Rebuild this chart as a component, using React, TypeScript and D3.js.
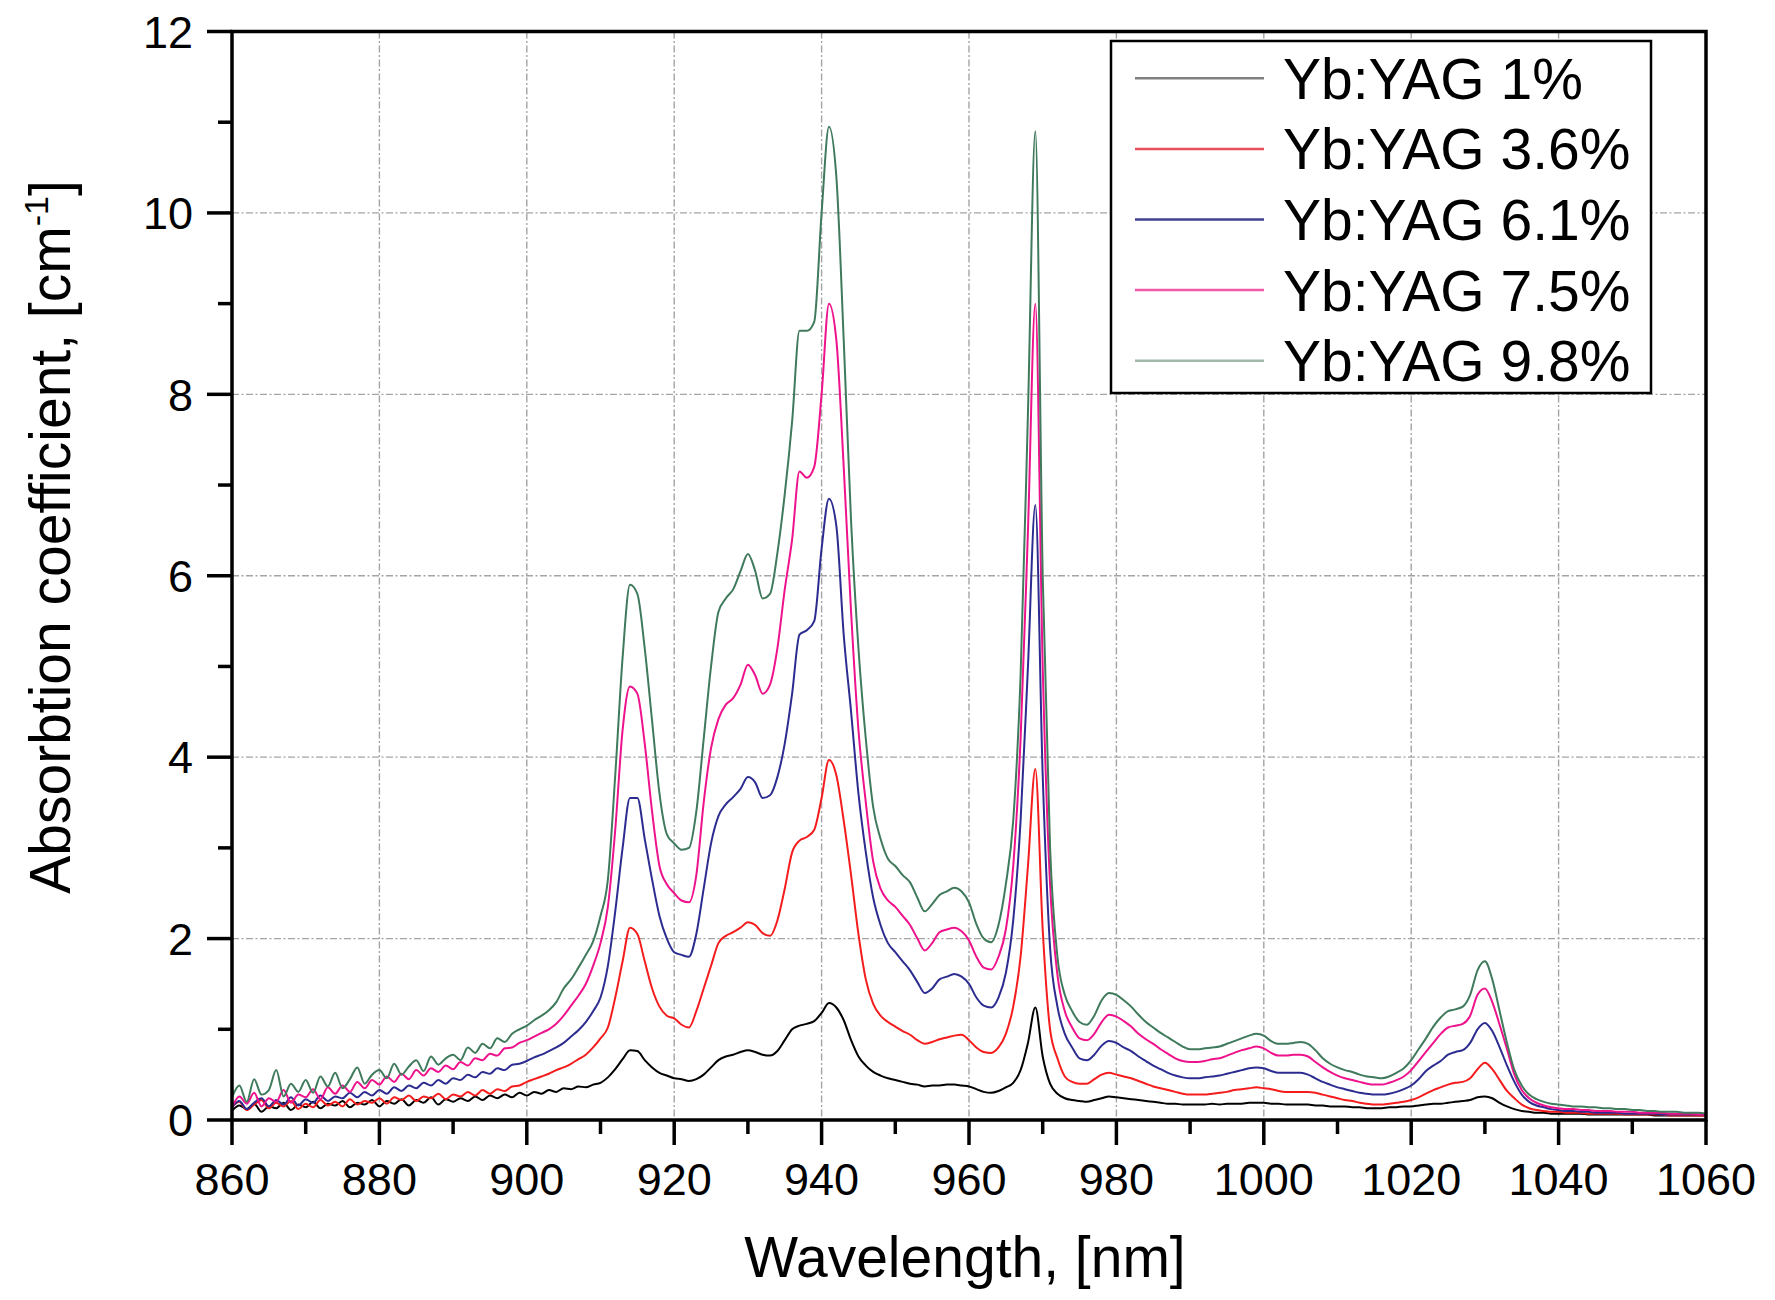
import * as d3 from "d3";

// measured absorption, one value per nm from 860 to 1060
const wavelength = d3.range(860, 1061, 1);

const yb1 = [
  0.10, 0.16, 0.12, 0.18, 0.09, 0.15, 0.13, 0.19, 0.11, 0.17,
  0.14, 0.20, 0.13, 0.18, 0.16, 0.21, 0.14, 0.19, 0.17, 0.22,
  0.15, 0.21, 0.18, 0.23, 0.16, 0.22, 0.19, 0.25, 0.17, 0.23,
  0.20, 0.24, 0.21, 0.26, 0.22, 0.27, 0.24, 0.28, 0.25, 0.30,
  0.27, 0.31, 0.29, 0.33, 0.31, 0.35, 0.34, 0.37, 0.36, 0.39,
  0.41, 0.47, 0.56, 0.67, 0.77, 0.76, 0.66, 0.58, 0.52, 0.49,
  0.46, 0.45, 0.43, 0.45, 0.50, 0.58, 0.66, 0.70, 0.72, 0.75,
  0.77, 0.75, 0.72, 0.71, 0.76, 0.88, 1.00, 1.04, 1.06, 1.09,
  1.18, 1.29, 1.24, 1.10, 0.88, 0.70, 0.60, 0.53, 0.49, 0.46,
  0.44, 0.42, 0.40, 0.39, 0.37, 0.38, 0.38, 0.39, 0.39, 0.38,
  0.37, 0.34, 0.31, 0.30, 0.32, 0.36, 0.41, 0.55, 0.85, 1.24,
  0.70, 0.40, 0.29, 0.24, 0.22, 0.21, 0.20, 0.22, 0.24, 0.26,
  0.25, 0.24, 0.23, 0.22, 0.21, 0.20, 0.19, 0.18, 0.18, 0.17,
  0.17, 0.17, 0.17, 0.18, 0.17, 0.18, 0.18, 0.18, 0.19, 0.19,
  0.19, 0.18, 0.18, 0.17, 0.17, 0.17, 0.17, 0.16, 0.16, 0.15,
  0.15, 0.15, 0.14, 0.14, 0.13, 0.13, 0.13, 0.14, 0.14, 0.15,
  0.15, 0.16, 0.17, 0.18, 0.18, 0.19, 0.20, 0.21, 0.22, 0.25,
  0.26, 0.24, 0.19, 0.15, 0.12, 0.10, 0.09, 0.08, 0.08, 0.07,
  0.07, 0.07, 0.07, 0.07, 0.06, 0.06, 0.06, 0.06, 0.06, 0.06,
  0.06, 0.06, 0.06, 0.05, 0.05, 0.05, 0.05, 0.05, 0.05, 0.05,
  0.05,
];

const yb36 = [
  0.14, 0.20, 0.11, 0.17, 0.22, 0.13, 0.19, 0.15, 0.21, 0.12,
  0.18, 0.14, 0.22, 0.16, 0.20, 0.15, 0.23, 0.17, 0.21, 0.19,
  0.24, 0.18, 0.25, 0.22, 0.27, 0.21, 0.26, 0.24, 0.29, 0.23,
  0.28, 0.26, 0.31, 0.27, 0.33, 0.29, 0.34, 0.32, 0.37, 0.38,
  0.42, 0.45, 0.48, 0.51, 0.55, 0.58, 0.62, 0.67, 0.72, 0.80,
  0.90, 1.02, 1.35, 1.75, 2.12, 2.05, 1.75, 1.45, 1.25, 1.15,
  1.12, 1.05, 1.02, 1.20, 1.45, 1.70, 1.95, 2.03, 2.07, 2.12,
  2.18, 2.15, 2.06, 2.03, 2.20, 2.55, 2.95, 3.08, 3.12, 3.20,
  3.55, 3.97, 3.80, 3.30, 2.70, 2.05, 1.55, 1.28, 1.15, 1.08,
  1.03, 0.98, 0.94, 0.88, 0.84, 0.86, 0.89, 0.91, 0.93, 0.94,
  0.88, 0.80, 0.75, 0.74, 0.80, 0.95, 1.25, 1.80, 2.80, 3.87,
  2.10, 1.00, 0.68, 0.48, 0.42, 0.40, 0.40, 0.45, 0.50, 0.52,
  0.50, 0.48, 0.46, 0.43, 0.40, 0.37, 0.35, 0.33, 0.31, 0.29,
  0.28, 0.28, 0.28, 0.29, 0.30, 0.31, 0.33, 0.34, 0.35, 0.36,
  0.35, 0.34, 0.32, 0.31, 0.31, 0.31, 0.31, 0.30, 0.28, 0.26,
  0.24, 0.22, 0.21, 0.19, 0.18, 0.17, 0.17, 0.18, 0.19, 0.20,
  0.22, 0.25, 0.29, 0.33, 0.36, 0.39, 0.41, 0.42, 0.46, 0.56,
  0.63, 0.56, 0.44, 0.32, 0.24, 0.17, 0.13, 0.11, 0.10, 0.09,
  0.09, 0.08, 0.08, 0.08, 0.07, 0.07, 0.07, 0.07, 0.07, 0.06,
  0.06, 0.06, 0.06, 0.06, 0.06, 0.05, 0.05, 0.05, 0.05, 0.05,
  0.05,
];

const yb61 = [
  0.14, 0.21, 0.12, 0.19, 0.24, 0.15, 0.22, 0.17, 0.25, 0.16,
  0.23, 0.19, 0.27, 0.21, 0.26, 0.24, 0.30, 0.25, 0.31, 0.27,
  0.33, 0.29, 0.36, 0.32, 0.38, 0.35, 0.41, 0.38, 0.44, 0.40,
  0.46, 0.44, 0.50, 0.47, 0.53, 0.51, 0.57, 0.55, 0.61, 0.62,
  0.65, 0.69, 0.72, 0.76, 0.80, 0.85, 0.92, 0.99, 1.08, 1.20,
  1.35, 1.70, 2.30, 3.00, 3.55, 3.55, 3.10, 2.65, 2.25, 2.00,
  1.85, 1.82, 1.80, 2.05, 2.55, 3.05, 3.35, 3.48, 3.56, 3.65,
  3.78, 3.72, 3.55, 3.58, 3.78, 4.15, 4.70, 5.35, 5.40, 5.50,
  6.30, 6.85, 6.55, 5.35, 4.50, 3.60, 2.95, 2.45, 2.15, 1.95,
  1.85, 1.75, 1.65, 1.52, 1.40, 1.45, 1.55, 1.58, 1.61, 1.58,
  1.50, 1.35, 1.26, 1.24, 1.35, 1.62, 2.20, 3.30, 5.00, 6.78,
  3.80, 1.90, 1.25, 0.95, 0.80, 0.68, 0.66, 0.72, 0.82, 0.87,
  0.85, 0.80, 0.76, 0.70, 0.65, 0.60, 0.56, 0.52, 0.49, 0.47,
  0.46, 0.46, 0.47, 0.48, 0.49, 0.51, 0.53, 0.55, 0.57, 0.58,
  0.57, 0.54, 0.52, 0.52, 0.52, 0.52, 0.50, 0.46, 0.42, 0.39,
  0.36, 0.34, 0.32, 0.30, 0.29, 0.28, 0.28, 0.29, 0.31, 0.34,
  0.38, 0.45, 0.54, 0.60, 0.65, 0.72, 0.75, 0.77, 0.85, 1.00,
  1.07, 0.98, 0.80, 0.60, 0.42, 0.28, 0.20, 0.16, 0.14, 0.12,
  0.11, 0.10, 0.10, 0.09, 0.09, 0.08, 0.08, 0.08, 0.08, 0.07,
  0.07, 0.07, 0.07, 0.07, 0.06, 0.06, 0.06, 0.06, 0.06, 0.06,
  0.06,
];

const yb75 = [
  0.14, 0.26, 0.18, 0.30, 0.15, 0.24, 0.20, 0.33, 0.19, 0.28,
  0.25, 0.34, 0.23, 0.36, 0.29, 0.38, 0.31, 0.42, 0.35, 0.44,
  0.39, 0.48, 0.42, 0.51, 0.45, 0.55, 0.49, 0.57, 0.53, 0.60,
  0.56, 0.64, 0.60, 0.68, 0.66, 0.73, 0.71, 0.79, 0.80, 0.85,
  0.88, 0.92, 0.96, 1.00, 1.06, 1.15, 1.26, 1.37, 1.50, 1.70,
  1.95, 2.35, 3.20, 4.30, 4.78, 4.70, 4.15, 3.40, 2.80, 2.60,
  2.50, 2.42, 2.40, 2.70, 3.50, 4.10, 4.42, 4.58, 4.65, 4.80,
  5.02, 4.90, 4.70, 4.80, 5.20, 5.85, 6.40, 7.15, 7.08, 7.20,
  8.00, 9.00, 8.60, 7.20, 5.60, 4.30, 3.50, 2.85, 2.55, 2.42,
  2.35, 2.25, 2.15, 2.00, 1.87, 1.95, 2.07, 2.10, 2.12, 2.08,
  1.98, 1.80, 1.68, 1.66, 1.80, 2.10, 2.80, 4.20, 6.50, 9.00,
  5.00, 2.60, 1.60, 1.20, 1.02, 0.90, 0.88, 0.95, 1.08, 1.16,
  1.14, 1.09, 1.03, 0.95, 0.89, 0.84, 0.78, 0.73, 0.68, 0.65,
  0.64, 0.64, 0.65, 0.67, 0.68, 0.71, 0.74, 0.77, 0.79, 0.81,
  0.79, 0.74, 0.71, 0.71, 0.72, 0.72, 0.70, 0.64, 0.58, 0.53,
  0.49, 0.46, 0.44, 0.42, 0.40, 0.39, 0.39, 0.41, 0.44, 0.48,
  0.55, 0.65, 0.75, 0.85, 0.95, 1.02, 1.04, 1.06, 1.15, 1.38,
  1.45, 1.30, 1.05, 0.78, 0.50, 0.33, 0.24, 0.19, 0.16, 0.14,
  0.13, 0.12, 0.12, 0.11, 0.11, 0.10, 0.10, 0.10, 0.09, 0.09,
  0.09, 0.08, 0.08, 0.08, 0.08, 0.07, 0.07, 0.07, 0.07, 0.06,
  0.06,
];

const yb98 = [
  0.25, 0.38, 0.20, 0.45, 0.28, 0.33, 0.55, 0.26, 0.40, 0.31,
  0.44, 0.30, 0.48, 0.37, 0.52, 0.35, 0.45, 0.58, 0.40, 0.50,
  0.55, 0.46, 0.62, 0.50, 0.59, 0.66, 0.54, 0.70, 0.61, 0.68,
  0.72, 0.66, 0.80, 0.74, 0.84, 0.79, 0.90, 0.86, 0.95, 1.00,
  1.04, 1.10, 1.15, 1.21, 1.30, 1.45, 1.55, 1.68, 1.82, 1.97,
  2.25, 2.65, 3.80, 5.10, 5.90, 5.80, 5.20, 4.40, 3.60, 3.15,
  3.05, 2.98, 3.00, 3.40, 4.20, 5.00, 5.60, 5.75, 5.85, 6.05,
  6.24, 6.05, 5.75, 5.80, 6.25, 6.90, 7.70, 8.70, 8.70, 8.80,
  10.00, 10.95, 10.40, 8.60, 6.60, 5.20, 4.20, 3.45, 3.10, 2.88,
  2.80, 2.70, 2.62, 2.45, 2.30, 2.38, 2.48, 2.52, 2.56, 2.52,
  2.40, 2.16, 2.00, 1.96, 2.15, 2.60, 3.30, 4.90, 7.80, 10.90,
  6.00, 3.00, 1.80, 1.38, 1.20, 1.08, 1.05, 1.15, 1.32, 1.40,
  1.38, 1.32, 1.25, 1.16, 1.08, 1.02, 0.96, 0.91, 0.86, 0.81,
  0.78, 0.78, 0.79, 0.80, 0.81, 0.84, 0.87, 0.90, 0.93, 0.95,
  0.93, 0.87, 0.84, 0.84, 0.85, 0.86, 0.84, 0.77, 0.68, 0.62,
  0.58, 0.55, 0.53, 0.50, 0.48, 0.47, 0.46, 0.48, 0.52, 0.57,
  0.66, 0.78, 0.90, 1.03, 1.13, 1.20, 1.22, 1.25, 1.38, 1.65,
  1.75, 1.55, 1.20, 0.85, 0.55, 0.38, 0.28, 0.23, 0.20, 0.18,
  0.17, 0.16, 0.15, 0.15, 0.14, 0.14, 0.13, 0.13, 0.12, 0.12,
  0.11, 0.11, 0.10, 0.10, 0.09, 0.09, 0.09, 0.08, 0.08, 0.08,
  0.07,
];

const seriesLabels = ["Yb:YAG 1%", "Yb:YAG 3.6%", "Yb:YAG 6.1%", "Yb:YAG 7.5%", "Yb:YAG 9.8%"];
const seriesValues = [yb1, yb36, yb61, yb75, yb98];
const colors = ["#000000", "#f41c1c", "#2c2c90", "#ee128c", "#3f7a5c"];
const legendColors = ["#808080", "#e8505c", "#404096", "#f05aa8", "#a2b8aa"];

const FONT = "'Liberation Sans', Arial, Helvetica, sans-serif";

export default function App() {
  const width = 1775;
  const height = 1300;
  const left = 232, right = 1706, top = 31.5, bottom = 1120;

  const x = d3.scaleLinear().domain([860, 1060]).range([left, right]);
  const y = d3.scaleLinear().domain([0, 12]).range([bottom, top]);

  const xMajor = x.ticks(10);
  const xMinor = x.ticks(20).filter(t => !xMajor.includes(t));
  const yMajor = y.ticks(6);
  const yMinor = y.ticks(12).filter(t => !yMajor.includes(t));

  const line = d3.line<number>()
    .x((_, i) => x(wavelength[i]))
    .y(d => y(d))
    .curve(d3.curveMonotoneX);

  const legendX = 1111, legendY = 41, legendW = 540, legendH = 352;
  const rowGap = 70.6;

  return (
    <svg width={width} height={height}
      style={{ position: "absolute", left: 0, top: 0, background: "#fff", fontFamily: FONT }}>
      <defs>
        <clipPath id="plot-clip">
          <rect x={left} y={top} width={right - left} height={bottom - top} />
        </clipPath>
      </defs>
      <rect x={0} y={0} width={width} height={height} fill="#fff" />

      {/* grid */}
      <g stroke="#a4a4a4" strokeWidth={1.4} strokeDasharray="7,2.5,2,2.5">
        {xMajor.filter(t => t > 860 && t < 1060).map(t => (
          <line key={"gx" + t} x1={x(t)} x2={x(t)} y1={top} y2={bottom} />
        ))}
        {yMajor.filter(t => t > 0 && t < 12).map(t => (
          <line key={"gy" + t} x1={left} x2={right} y1={y(t)} y2={y(t)} />
        ))}
      </g>

      {/* spectra */}
      <g clipPath="url(#plot-clip)" fill="none" strokeWidth={2} strokeLinejoin="round">
        {seriesValues.map((vals, i) => (
          <path key={seriesLabels[i]} d={line(vals) || ""} stroke={colors[i]} />
        ))}
      </g>

      {/* frame */}
      <rect x={left} y={top} width={right - left} height={bottom - top}
        fill="none" stroke="#000" strokeWidth={3.5} />

      {/* ticks */}
      <g stroke="#000" strokeWidth={3.5}>
        {xMajor.map(t => (
          <line key={"xt" + t} x1={x(t)} x2={x(t)} y1={bottom} y2={bottom + 25} />
        ))}
        {xMinor.map(t => (
          <line key={"xm" + t} x1={x(t)} x2={x(t)} y1={bottom} y2={bottom + 14} />
        ))}
        {yMajor.map(t => (
          <line key={"yt" + t} x1={left - 25} x2={left} y1={y(t)} y2={y(t)} />
        ))}
        {yMinor.map(t => (
          <line key={"ym" + t} x1={left - 14} x2={left} y1={y(t)} y2={y(t)} />
        ))}
      </g>

      <g fontSize={45} fill="#000">
        {xMajor.map(t => (
          <text key={"xl" + t} x={x(t)} y={1195} textAnchor="middle">{t}</text>
        ))}
        {yMajor.map(t => (
          <text key={"yl" + t} x={193} y={y(t)} dy="0.36em" textAnchor="end">{t}</text>
        ))}
      </g>

      {/* axis titles */}
      <text x={965} y={1277} fontSize={57} textAnchor="middle" fill="#000">Wavelength, [nm]</text>
      <text transform="translate(70,537) rotate(-90)" fontSize={57} textAnchor="middle" fill="#000">
        Absorbtion coefficient, [cm<tspan fontSize={34} dy={-22}>-1</tspan><tspan dy={22}>]</tspan>
      </text>

      {/* legend */}
      <rect x={legendX} y={legendY} width={legendW} height={legendH}
        fill="#fff" stroke="#000" strokeWidth={2.5} />
      {seriesLabels.map((label, i) => {
        const cy = 78.3 + i * rowGap;
        return (
          <g key={"lg" + label}>
            <line x1={1135} x2={1264} y1={cy} y2={cy} stroke={legendColors[i]} strokeWidth={2.5} />
            <text x={1283} y={cy} dy="0.36em" fontSize={57} fill="#000">{label}</text>
          </g>
        );
      })}
    </svg>
  );
}
